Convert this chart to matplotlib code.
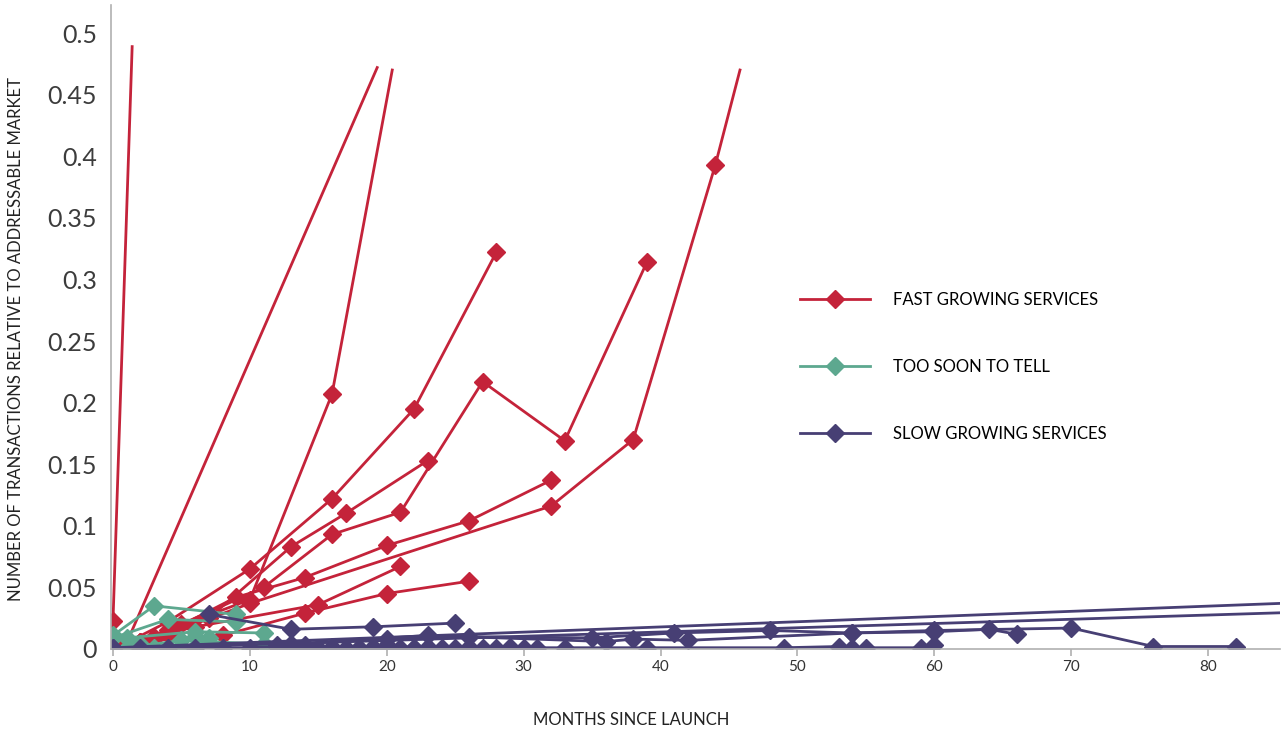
import matplotlib
matplotlib.use("Agg")
import matplotlib.pyplot as plt
from matplotlib.lines import Line2D
from matplotlib.legend_handler import HandlerLine2D

# fast growing services (months since launch, transactions / addressable market)
fast_x = [
    [0, 1.4],
    [1, 19.3],
    [2, 4, 10, 16, 20.4],
    [1, 4, 10, 16, 22, 28],
    [1, 7, 13, 17, 23],
    [2, 5, 11, 16, 21, 27, 33, 39],
    [3, 9, 14, 20, 26, 32],
    [4, 10, 32, 38, 44, 45.8],
    [3, 6, 15, 21],
    [2, 8, 14, 20, 26],
]
fast_y = [
    [0.023, 0.489],
    [0.005, 0.472],
    [0.006, 0.015, 0.040, 0.207, 0.470],
    [0.005, 0.022, 0.065, 0.122, 0.195, 0.322],
    [0.005, 0.025, 0.083, 0.110, 0.153],
    [0.006, 0.020, 0.050, 0.093, 0.111, 0.217, 0.169, 0.314],
    [0.008, 0.042, 0.058, 0.084, 0.104, 0.137],
    [0.012, 0.037, 0.116, 0.170, 0.393, 0.470],
    [0.010, 0.018, 0.036, 0.067],
    [0.006, 0.011, 0.029, 0.045, 0.055],
]
# series whose last value runs off the top (no marker drawn there)
fast_open = [True, True, True, False, False, False, False, True, False, False]

# too soon to tell
soon_x = [
    [0, 3, 9],
    [0, 4, 9],
    [1, 6, 11],
    [1, 5, 11],
    [2, 3, 6],
    [5, 6, 7],
]
soon_y = [
    [0.011, 0.035, 0.028],
    [0.009, 0.024, 0.022],
    [0.009, 0.014, 0.013],
    [0.001, 0.007, 0.004],
    [0.004, 0.001, 0.010],
    [0.001, 0.002, 0.009],
]

# slow growing services
slow_x = [
    [0, 90],
    [0, 90],
    [7, 13, 19, 25],
    [13, 20, 26, 35, 41, 48, 54, 60, 70, 76, 82],
    [12, 23, 36, 38, 42, 54, 60, 64, 66],
    [0, 2, 4, 6, 8, 10, 12, 14, 16, 18, 20, 22, 24],
    [13, 15, 17, 19, 21, 23, 25, 27, 29, 31, 33, 39, 49, 53],
    [14, 16, 18, 20, 22, 26, 28, 30],
    [54, 55, 59, 60],
]
slow_y = [
    [0.001, 0.039],
    [0.000, 0.031],
    [0.028, 0.016, 0.018, 0.021],
    [0.004, 0.008, 0.010, 0.009, 0.013, 0.015, 0.013, 0.015, 0.017, 0.002, 0.002],
    [0.003, 0.011, 0.006, 0.008, 0.007, 0.013, 0.014, 0.016, 0.012],
    [0.001, 0.001, 0.001, 0.001, 0.001, 0.001, 0.002, 0.001, 0.001, 0.001, 0.002, 0.001, 0.001],
    [0.002, 0.001, 0.001, 0.002, 0.001, 0.002, 0.001, 0.001, 0.002, 0.001, 0.001, 0.001, 0.001, 0.002],
    [0.003, 0.002, 0.001, 0.003, 0.001, 0.002, 0.001, 0.001],
    [0.001, 0.001, 0.001, 0.003],
]

legend_labels = ["FAST GROWING SERVICES", "TOO SOON TO TELL", "SLOW GROWING SERVICES"]
y_ticks = [0, 0.05, 0.1, 0.15, 0.2, 0.25, 0.3, 0.35, 0.4, 0.45, 0.5]
y_ticklabels = ["0", "0.05", "0.1", "0.15", "0.2", "0.25", "0.3", "0.35", "0.4", "0.45", "0.5"]
x_ticks = [0, 10, 20, 30, 40, 50, 60, 70, 80]

red = "#C4233A"
teal = "#5DA88F"
navy = "#473F74"

plt.rcParams['font.family'] = ['Lato', 'DejaVu Sans']

fig = plt.figure(figsize=(12.87, 7.30), dpi=100)
ax = fig.add_axes([0.0862, 0.111, 0.9084, 0.882])

lw = 2.0
ms = 9
for xs, ys, op in zip(fast_x, fast_y, fast_open):
    me = list(range(len(xs) - 1)) if op else None
    ax.plot(xs, ys, color=red, lw=lw, marker='D', ms=ms, markevery=me)
for xs, ys in zip(soon_x, soon_y):
    ax.plot(xs, ys, color=teal, lw=lw, marker='D', ms=ms)
for xs, ys in zip(slow_x, slow_y):
    ax.plot(xs, ys, color=navy, lw=lw, marker='D', ms=ms)

ax.set_xlim(-0.15, 85.25)
ax.set_ylim(0, 0.5227)

for s in ['top', 'right']:
    ax.spines[s].set_visible(False)
for s in ['left', 'bottom']:
    ax.spines[s].set_color('#b0b0b0')
    ax.spines[s].set_linewidth(1.2)

ax.set_yticks(y_ticks)
ax.set_yticklabels(y_ticklabels)
ax.set_xticks(x_ticks)
ax.tick_params(axis='y', length=0, pad=10, labelsize=18, labelcolor='#3c3c3c')
ax.tick_params(axis='x', length=5, width=1.2, color='#b0b0b0', direction='out',
               pad=3, labelsize=11, labelcolor='#333333')

ax.set_xlabel("MONTHS SINCE LAUNCH", fontsize=12, color='#222222')
ax.xaxis.set_label_coords(0.445, -0.098)
ax.set_ylabel("NUMBER OF TRANSACTIONS RELATIVE TO ADDRESSABLE MARKET",
              fontsize=12, color='#222222')
ax.yaxis.set_label_coords(-0.074, 0.482)


class LeftMarker(HandlerLine2D):
    def get_xdata(self, legend, xdescent, ydescent, width, height, fontsize):
        return [-xdescent, -xdescent + width], [-xdescent]


handles = [Line2D([], [], color=c, lw=lw, marker='D', ms=ms) for c in (red, teal, navy)]
ax.legend(handles, legend_labels, loc='upper left', bbox_to_anchor=(0.589, 0.554),
          frameon=False, fontsize=12, handlelength=4.2, handletextpad=1.4,
          labelspacing=3.05, borderpad=0, borderaxespad=0,
          handler_map={Line2D: LeftMarker(numpoints=1)})

fig.savefig("out.png", dpi=100)
